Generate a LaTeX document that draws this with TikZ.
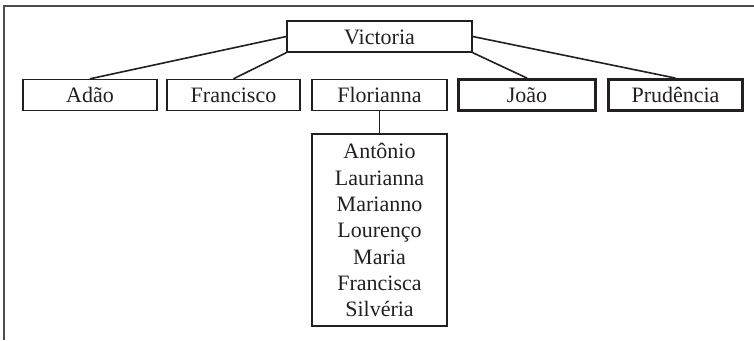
\documentclass[tikz,border=0pt]{standalone}
\usepackage{fontspec}
\setmainfont{Liberation Serif}
\definecolor{ink}{HTML}{231F20}
\begin{document}
\begin{tikzpicture}[x=1pt,y=-1pt,
  every node/.style={font=\fontsize{22}{26.3}\selectfont, text=ink},
  person/.style={draw=ink, line width=1.4pt, rectangle, inner sep=0pt,
    minimum height=31pt, text height=20.6pt, text depth=5pt},
  heavy/.style={person, line width=2.8pt},
  link/.style={draw=ink, line width=1.6pt},
  frame/.style={draw=ink!80, line width=1.1pt}]
\useasboundingbox (0,0) rectangle (754,340);
% outer frame (top and left only)
\coordinate (fa) at (4,6);
\coordinate (fb) at (754,6);
\coordinate (fc) at (4,340);
\draw[frame] (fb) -- (fa) -- (fc);
% nodes
\node[person, minimum width=185pt] (V) at (379.5,36.5) {Victoria};
\node[person, minimum width=134pt] (A) at (90,95) {Adão};
\node[person, minimum width=133pt] (F) at (233.5,95) {Francisco};
\node[person, minimum width=135pt] (Fl) at (379.5,95) {Florianna};
\node[heavy, minimum width=137pt] (J) at (527,95) {João};
\node[heavy, minimum width=134pt] (P) at (675.5,95) {Prudência};
\node[draw=ink, line width=1.4pt, rectangle, inner sep=0pt, align=center,
      minimum width=135pt, minimum height=192pt] (C) at (379.5,230)
  {\rule[-5pt]{0pt}{25.6pt}Antônio\\
   \rule[-5pt]{0pt}{25.6pt}Laurianna\\
   \rule[-5pt]{0pt}{25.6pt}Marianno\\
   \rule[-5pt]{0pt}{25.6pt}Lourenço\\
   \rule[-5pt]{0pt}{25.6pt}Maria\\
   \rule[-5pt]{0pt}{25.6pt}Francisca\\
   \rule[-5pt]{0pt}{25.6pt}Silvéria};
% connectors
\draw[link] (V.west) -- (A.north);
\draw[link] (V.south west) -- (F.north);
\draw[link] (V.south east) -- (J.north);
\draw[link] (V.east) -- (P.north);
\draw[link] (Fl.south) -- (C.north);
\end{tikzpicture}
\end{document}
